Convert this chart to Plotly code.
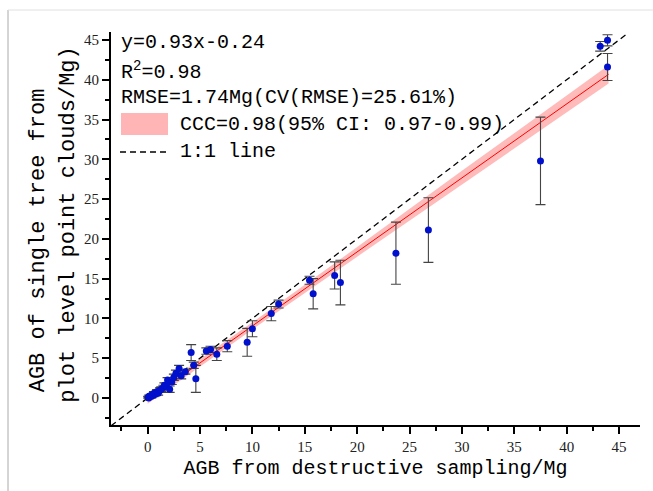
import plotly.graph_objects as go

# ---- data ----
agb_destructive = [0.05, 0.1, 0.15, 0.2, 0.3, 0.35, 0.45, 0.55, 0.6, 0.75, 0.9, 1.0, 1.2, 1.3,
                   1.5, 1.6, 1.8, 1.9, 2.1, 2.3, 2.5, 2.7, 3.0, 3.2, 3.6, 4.15, 4.4, 4.6, 5.6,
                   6.0, 6.6, 7.6, 9.5, 10.0, 11.8, 12.5, 15.45, 15.8, 17.85, 18.4, 23.7, 26.8,
                   37.5, 43.2, 43.9, 43.9]
agb_pointcloud = [0.1, 0.0, 0.2, 0.15, 0.3, 0.2, 0.4, 0.35, 0.6, 0.5, 0.8, 0.6, 1.0, 1.1,
                  1.3, 1.6, 1.5, 2.25, 1.1, 2.0, 2.6, 3.1, 3.7, 2.8, 3.3, 5.7, 4.1, 2.4, 5.9,
                  6.1, 5.5, 6.5, 7.0, 8.7, 10.6, 11.8, 14.8, 13.1, 15.4, 14.5, 18.2, 21.1,
                  29.8, 44.2, 44.96, 41.6]
agb_error = [0.1, 0.1, 0.15, 0.1, 0.15, 0.2, 0.15, 0.2, 0.2, 0.2, 0.25, 0.25, 0.3, 0.3,
             0.3, 0.3, 0.35, 0.3, 0.4, 0.3, 0.4, 0.4, 0.4, 0.4, 0.3, 1.0, 0.4, 1.7, 0.4,
             0.4, 0.8, 0.7, 1.75, 1.0, 0.9, 0.5, 0.5, 1.9, 1.7, 2.8, 3.9, 4.06,
             5.5, 0.6, 0.7, 1.7]

fit_slope = 0.93
fit_intercept = -0.24
fit_x = [0, 44]
band_x = [0, 10, 20, 30, 40, 44]
band_halfwidth = [0.5, 0.45, 0.6, 0.9, 1.05, 1.15]
one_to_one = [-3.5, 45.8]

x_range = [-3.5, 47]
y_range = [-3.4, 46]

FONT = "Liberation Mono"
TICKFONT = "Liberation Serif"

fig = go.Figure()

# confidence band
band_lo = [fit_slope * x + fit_intercept - h for x, h in zip(band_x, band_halfwidth)]
band_hi = [fit_slope * x + fit_intercept + h for x, h in zip(band_x, band_halfwidth)]
fig.add_trace(go.Scatter(x=band_x + band_x[::-1], y=band_hi + band_lo[::-1], fill="toself",
                         fillcolor="rgba(255,130,130,0.55)", line=dict(width=0),
                         mode="lines", hoverinfo="skip", showlegend=False))
# 1:1 line
fig.add_trace(go.Scatter(x=one_to_one, y=one_to_one, mode="lines",
                         line=dict(color="black", width=1.3, dash="6px,4px"), showlegend=False))
# fit line
fig.add_trace(go.Scatter(x=fit_x, y=[fit_slope * x + fit_intercept for x in fit_x], mode="lines",
                         line=dict(color="red", width=1), showlegend=False))
# points
fig.add_trace(go.Scatter(x=agb_destructive, y=agb_pointcloud, mode="markers",
                         marker=dict(color="#0010CC", size=7),
                         error_y=dict(type="data", array=agb_error, visible=True,
                                      color="#444", thickness=1.1, width=5),
                         showlegend=False))

axis_common = dict(showline=True, linewidth=2, linecolor="black", ticks="outside", ticklen=7,
                   tickwidth=2, tickcolor="black", showgrid=False, zeroline=False,
                   dtick=5, tick0=0, mirror=False,
                   minor=dict(ticks="outside", ticklen=4, tickwidth=2, tickcolor="black", dtick=2.5),
                   tickfont=dict(family=TICKFONT, size=15, color="#222"))
fig.update_xaxes(range=x_range, **axis_common,
                 title=dict(text="AGB from destructive sampling/Mg",
                            font=dict(family=FONT, size=20, color="black"), standoff=6))
fig.update_yaxes(range=y_range, **axis_common)

ann = []
ann.append(dict(text="AGB of single tree from", x=-0.138, y=0.47, textangle=-90,
                font=dict(family=FONT, size=22, color="black")))
ann.append(dict(text="plot level point clouds/Mg)", x=-0.081, y=0.51, textangle=-90,
                font=dict(family=FONT, size=22, color="black")))
for a in ann:
    a.update(xref="paper", yref="paper", showarrow=False, xanchor="center", yanchor="middle")

legend_lines = [("y=0.93x-0.24", 43), ("R<sup>2</sup>=0.98", 71), ("RMSE=1.74Mg(CV(RMSE)=25.61%)", 98)]
PW, PH, L, T = 529, 393, 111, 32
def px(xp):
    return (xp - L) / PW
def py(yp):
    return (T + PH - yp) / PH
for txt, yy in legend_lines:
    ann.append(dict(text=txt, x=px(119), y=py(yy), xref="paper", yref="paper", showarrow=False,
                    xanchor="left", yanchor="middle", font=dict(family=FONT, size=20, color="black")))
ann.append(dict(text="CCC=0.98(95% CI: 0.97-0.99)", x=px(178), y=py(124), xref="paper", yref="paper",
                showarrow=False, xanchor="left", yanchor="middle",
                font=dict(family=FONT, size=20, color="black")))
ann.append(dict(text="1:1 line", x=px(178), y=py(151), xref="paper", yref="paper",
                showarrow=False, xanchor="left", yanchor="middle",
                font=dict(family=FONT, size=20, color="black")))

shapes = [
    dict(type="rect", xref="paper", yref="paper", x0=px(121), x1=px(168), y0=py(135), y1=py(113),
         fillcolor="rgba(255,150,150,0.7)", line=dict(width=0)),
    dict(type="line", xref="paper", yref="paper", x0=px(120), x1=px(166), y0=py(152), y1=py(152),
         line=dict(color="black", width=1.3, dash="6px,4px")),
    dict(type="line", xref="paper", yref="paper", x0=px(8), x1=px(8), y0=py(10), y1=py(491),
         line=dict(color="#aaa", width=1)),
    dict(type="line", xref="paper", yref="paper", x0=px(8), x1=px(653), y0=py(10), y1=py(10),
         line=dict(color="#e0e0e0", width=1)),
]

fig.update_layout(width=653, height=491, margin=dict(l=L, r=653 - L - PW, t=T, b=491 - T - PH),
                  plot_bgcolor="white", paper_bgcolor="white", annotations=ann, shapes=shapes,
                  showlegend=False)
fig.write_html("out.html")
